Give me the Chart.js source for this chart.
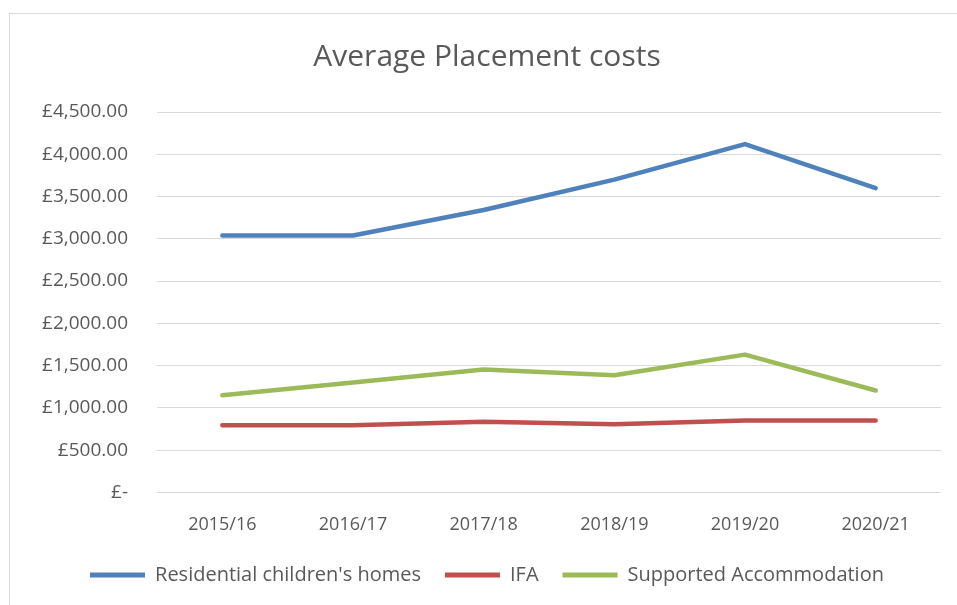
<!DOCTYPE html>
<html>
<head>
<meta charset="utf-8">
<script src="https://cdn.jsdelivr.net/npm/chart.js@4"></script>
<style>
    html, body { margin: 0; padding: 0; background: #ffffff; }
    #wrap { position: relative; width: 957px; height: 605px; overflow: hidden; }
    #frame {
        position: absolute; left: 9px; top: 13px; width: 1000px; height: 700px;
        border-left: 1px solid #d9d9d9; border-top: 1px solid #d9d9d9;
    }
    canvas { position: absolute; left: 0; top: 0; }
</style>
</head>
<body>
<div id="wrap">
    <div id="frame"></div>
    <canvas id="costChart" width="957" height="605"></canvas>
</div>
<script>
// =========================
// DATA
// =========================
const years = ["2015/16", "2016/17", "2017/18", "2018/19", "2019/20", "2020/21"];
const residentialHomes = [3040, 3040, 3340, 3700, 4120, 3600];
const ifa = [795, 795, 835, 805, 850, 850];
const supportedAccommodation = [1150, 1300, 1455, 1385, 1630, 1205];

const yMin = 0;
const yMax = 4500;
const yStep = 500;

const textColor = "#595959";
const gridColor = "#d9d9d9";

// £ accounting format, zero shown as "£-"
function poundLabel(v) {
    if (v === 0) return "£-";
    return "£" + v.toLocaleString("en-GB", { minimumFractionDigits: 2, maximumFractionDigits: 2 });
}

function lineSet(label, data, color) {
    return {
        label: label,
        data: data,
        borderColor: color,
        backgroundColor: color,
        borderWidth: 4.5,
        borderCapStyle: "round",
        borderJoinStyle: "round",
        tension: 0,
        pointRadius: 0,
        pointHoverRadius: 0,
        fill: false
    };
}

const ctx = document.getElementById("costChart").getContext("2d");

new Chart(ctx, {
    type: "line",
    data: {
        labels: years,
        datasets: [
            lineSet("Residential children's homes", residentialHomes, "#4f81bd"),
            lineSet("IFA", ifa, "#c0504d"),
            lineSet("Supported Accommodation", supportedAccommodation, "#9bbb59")
        ]
    },
    options: {
        responsive: false,
        animation: false,
        layout: {
            padding: { left: 33, right: 16, top: 0, bottom: 10 }
        },
        plugins: {
            title: {
                display: true,
                text: "Average Placement costs",
                color: textColor,
                font: { family: "'Open Sans'", size: 30, weight: "normal" },
                padding: { top: 39, bottom: 37 }
            },
            legend: {
                position: "bottom",
                labels: {
                    color: textColor,
                    font: { family: "'Open Sans'", size: 20 },
                    boxWidth: 55,
                    boxHeight: 5,
                    padding: 24,
                    generateLabels: (chart) => chart.data.datasets.map((ds, i) => ({
                        text: ds.label,
                        fillStyle: ds.borderColor,
                        strokeStyle: ds.borderColor,
                        lineWidth: 0,
                        fontColor: textColor,
                        datasetIndex: i
                    }))
                }
            },
            tooltip: { enabled: false }
        },
        scales: {
            x: {
                offset: true,
                grid: { display: false },
                border: { display: false },
                afterFit: (scale) => { scale.height = scale.height - 9; },
                ticks: {
                    color: textColor,
                    font: { family: "'Open Sans'", size: 18 },
                    padding: 14,
                    maxRotation: 0
                }
            },
            y: {
                min: yMin,
                max: yMax,
                afterFit: (scale) => { scale.width = 124; },
                grid: { color: gridColor, lineWidth: 1, drawTicks: false },
                border: { display: false },
                ticks: {
                    stepSize: yStep,
                    color: textColor,
                    font: { family: "'Open Sans'", size: 19 },
                    padding: 29,
                    callback: (v) => poundLabel(v)
                }
            }
        }
    }
});
</script>
</body>
</html>
